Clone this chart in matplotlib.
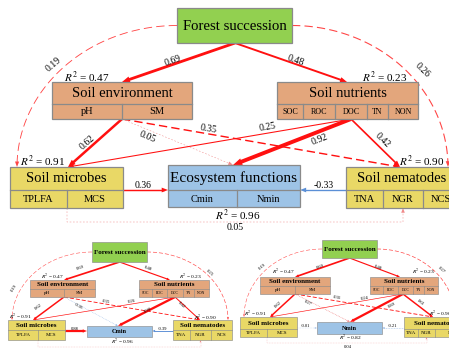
import numpy as np
import matplotlib.pyplot as plt
from matplotlib.patches import Rectangle, Polygon

plt.rcParams['font.family'] = 'Liberation Serif'
plt.rcParams['mathtext.fontset'] = 'stix'
plt.rcParams['lines.scale_dashes'] = False

# path order used by every coefficient / style list below
paths = ['fs_env', 'fs_nut', 'fs_mic', 'fs_nem', 'env_mic', 'env_cen', 'env_nem',
         'nut_mic', 'nut_cen', 'nut_nem', 'mic_cen', 'nem_cen', 'mic_nem']

eco_coef = [0.69, 0.48, 0.19, 0.26, 0.62, 0.05, 0.35, 0.25, 0.92, 0.42, 0.36, -0.33, 0.05]
cmin_coef = [0.69, 0.48, 0.19, 0.25, 0.62, -0.16, 0.35, 0.26, 0.90, 0.42, 0.88, -0.39, 0.05]
nmin_coef = [0.69, 0.48, 0.19, 0.27, 0.62, 0.27, 0.36, 0.24, 0.89, 0.61, -0.01, -0.21, 0.04]

# R2 for soil environment, soil nutrients, microbes, nematodes, centre box
eco_r2 = [0.47, 0.23, 0.91, 0.90, 0.96]
cmin_r2 = [0.47, 0.23, 0.91, 0.90, 0.96]
nmin_r2 = [0.47, 0.23, 0.91, 0.90, 0.82]

env_vars = ['pH', 'SM']
nut_vars = ['SOC', 'ROC', 'DOC', 'TN', 'NON']
mic_vars = ['TPLFA', 'MCS']
nem_vars = ['TNA', 'NGR', 'NCS']
eco_vars = ['Cmin', 'Nmin']

eco_ls = ['-', '-', '--', '--', '-', ':', '--', '-', '-', '-', '-', '-', ':']
cmin_ls = ['-', '-', '--', '--', '-', ':', '--', '-', '-', '-', '-', '-', ':']
nmin_ls = ['-', '-', '--', '--', '-', ':', '--', '-', '-', '-', ':', ':', ':']

GREEN = '#92d050'
ORANGE = '#e3a67c'
YELLOW = '#e9d866'
BLUE = '#9dc3e6'
EDGE = '#8a8a8a'

# pixel layouts (x0, y0, x1, y1[, row split])
main_lay = dict(
    s=1.0, weight='normal', fs=(177, 8, 292, 43),
    env=(52, 82, 192, 119, 104), env_div=[122],
    nut=(277, 82, 418, 119, 104), nut_div=[303, 335, 367, 388],
    mic=(10, 167, 123, 208, 190), mic_div=[67],
    cen=(168, 165, 300, 207, 190), cen_div=[237],
    nem=(346, 167, 458, 208, 190), nem_div=[383, 423],
    fs_out=(235, 43), env_in=(122, 82), nut_in=(347, 82),
    env_out=(122, 119), nut_out=(351, 119),
    mic_in=(68, 167), nem_in=(400, 167), cen_in=(233, 165),
    hy=190, arc_l=17, arc_r=448, bottom=222,
    coef_xy=[(173, 61), (296, 60), (53, 65), (422, 70), (87, 143), (147, 137), (208, 129),
             (268, 127), (320, 140), (382, 140), (143, 185), (324, 185), (235, 228)],
    r2_xy=[(87, 77), (385, 77), (43, 161), (422, 161), (238, 215)],
)

cmin_lay = dict(
    s=0.48, weight='bold', fs=(92, 242, 147, 262),
    env=(30, 280, 95, 297, 289), env_div=[64],
    nut=(139, 280, 209, 297, 289), nut_div=[152, 167, 183, 194],
    mic=(8, 320, 65, 340, 330), mic_div=[38],
    cen=(87, 326, 152, 337), cen_div=[],
    nem=(173, 320, 232, 340, 330), nem_div=[190, 211],
    fs_out=(119.5, 262), env_in=(64, 280), nut_in=(170, 280),
    env_out=(64, 297), nut_out=(175, 297),
    mic_in=(33, 320), nem_in=(200, 320), cen_in=(118, 326),
    hy=331, arc_l=12, arc_r=228, bottom=347,
    coef_xy=[(80, 268), (148, 268), (14, 288), (210, 273), (38, 307), (78, 306), (106, 302),
             (132, 301), (148, 310), (182, 305), (75, 329), (163, 329), (120, 352)],
    r2_xy=[(52, 277), (190, 277), (20, 317), (205, 318), (122, 342)],
)

nmin_lay = dict(
    s=0.48, weight='bold', fs=(322, 240, 377, 258),
    env=(260, 277, 330, 294, 286), env_div=[295],
    nut=(370, 277, 438, 294, 286), nut_div=[383, 398, 413, 424],
    mic=(240, 317, 297, 337, 329), mic_div=[267],
    cen=(317, 322, 382, 334), cen_div=[],
    nem=(404, 317, 470, 337, 329), nem_div=[418, 435],
    fs_out=(349.5, 258), env_in=(295, 277), nut_in=(400, 277),
    env_out=(295, 294), nut_out=(403, 294),
    mic_in=(270, 317), nem_in=(433, 317), cen_in=(350, 322),
    hy=328, arc_l=244, arc_r=455, bottom=343,
    coef_xy=[(320, 267), (378, 267), (262, 267), (442, 270), (278, 305), (308, 303), (337, 298),
             (365, 298), (392, 305), (421, 303), (306, 326), (393, 326), (348, 347)],
    r2_xy=[(283, 272), (423, 272), (255, 314), (440, 314), (350, 338)],
)


def screen_angle(p, q):
    a = np.degrees(np.arctan2(-(q[1] - p[1]), q[0] - p[0]))
    if a > 90:
        a -= 180
    if a < -90:
        a += 180
    return a


def draw_box(ax, rect, divs, title, subs, color, s, title_fs, sub_fs, weight):
    x0, y0, x1, y1 = rect[:4]
    ax.add_patch(Rectangle((x0, y0), x1 - x0, y1 - y0, fc=color, ec=EDGE, lw=0.9 * s, zorder=3))
    if subs:
        ys = rect[4]
        ax.plot([x0, x1], [ys, ys], color=EDGE, lw=0.9 * s, zorder=4)
        edges = [x0] + list(divs) + [x1]
        for d in divs:
            ax.plot([d, d], [ys, y1], color=EDGE, lw=0.9 * s, zorder=4)
        for i, lab in enumerate(subs):
            ax.text((edges[i] + edges[i + 1]) / 2, (ys + y1) / 2 + 0.5 * s, lab, fontsize=sub_fs,
                    ha='center', va='center', zorder=5, clip_on=True)
        ax.text((x0 + x1) / 2, (y0 + ys) / 2 + 0.5 * s, title, fontsize=title_fs, fontweight=weight,
                ha='center', va='center', zorder=5, clip_on=True)
    else:
        ax.text((x0 + x1) / 2, (y0 + y1) / 2 + 0.5 * s, title, fontsize=title_fs, fontweight=weight,
                ha='center', va='center', zorder=5)


def draw_path(ax, pts, color, lw, ls, head, s):
    pts = np.asarray(pts, float)
    p, q = pts[-2], pts[-1]
    d = (q - p) / np.hypot(*(q - p))
    line = np.vstack([pts[:-1], q - d * head * 0.7])
    kw = dict(color=color, lw=lw, solid_capstyle='butt', zorder=2)
    if ls == '--':
        kw['dashes'] = (6 * s, 3 * s)
    elif ls == ':':
        kw['dashes'] = (1.2 * s, 1.2 * s)
    ax.plot(line[:, 0], line[:, 1], **kw)
    n = np.array([-d[1], d[0]])
    base = q - d * head
    ax.add_patch(Polygon([q, base + n * head * 0.38, base - n * head * 0.38],
                         closed=True, fc=color, ec='none', zorder=2))


def draw_panel(ax, lay, coef, r2, ls, cen_title, cen_subs):
    s = lay['s']
    fs, env, nut, mic, cen, nem = (lay[k] for k in ['fs', 'env', 'nut', 'mic', 'cen', 'nem'])
    fs_mid = (fs[1] + fs[3]) / 2

    t = np.linspace(np.pi / 2, np.pi, 60)
    rx, ry = fs[0] - lay['arc_l'], mic[1] - fs_mid
    arc_left = np.column_stack([fs[0] + rx * np.cos(t), mic[1] - ry * np.sin(t)])
    t = np.linspace(np.pi / 2, 0, 60)
    rx, ry = lay['arc_r'] - fs[2], nem[1] - fs_mid
    arc_right = np.column_stack([fs[2] + rx * np.cos(t), nem[1] - ry * np.sin(t)])

    md = lay['mic_div'][0]
    ngr = (lay['nem_div'][0] + lay['nem_div'][1]) / 2
    yb, hy = lay['bottom'], lay['hy']
    geo = {
        'fs_env': [lay['fs_out'], lay['env_in']],
        'fs_nut': [lay['fs_out'], lay['nut_in']],
        'fs_mic': arc_left,
        'fs_nem': arc_right,
        'env_mic': [lay['env_out'], lay['mic_in']],
        'env_cen': [lay['env_out'], lay['cen_in']],
        'env_nem': [lay['env_out'], lay['nem_in']],
        'nut_mic': [lay['nut_out'], lay['mic_in']],
        'nut_cen': [lay['nut_out'], lay['cen_in']],
        'nut_nem': [lay['nut_out'], lay['nem_in']],
        'mic_cen': [(mic[2], hy), (cen[0], hy)],
        'nem_cen': [(nem[0], hy), (cen[2], hy)],
        'mic_nem': [(md, mic[3]), (md, yb), (ngr, yb), (ngr, nem[3])],
    }

    for name, c, style, (lx, ly) in zip(paths, coef, ls, lay['coef_xy']):
        pts = np.asarray(geo[name], float)
        if c < 0:
            color = '#8fb4e3' if style == ':' else '#5b8fd6'
        else:
            color = '#f08a8a' if style == ':' else ('#ff4545' if name.startswith('fs_') and style == '--' else '#ff1010')
        lw = (0.3 + 2.8 * abs(c) ** 1.3) * (s if s == 1 else 0.6)
        head = (4.5 + 5 * abs(c)) * s
        draw_path(ax, pts, color, lw, style, head, s)

        if name in ('fs_mic', 'fs_nem'):
            i = np.argmin(np.abs(pts[:, 1] - ly))
            rot = screen_angle(pts[max(i - 1, 0)], pts[min(i + 1, len(pts) - 1)])
        elif name == 'mic_nem':
            rot = 0
        else:
            rot = screen_angle(pts[0], pts[-1])
        ax.text(lx, ly, f'{c:.2f}', fontsize=7 * s, rotation=rot, rotation_mode='anchor',
                ha='center', va='center', zorder=6)

    tf = 10.5 * s
    sf = 7.5 * s
    w = lay['weight']
    draw_box(ax, fs, [], 'Forest succession', [], GREEN, s, 10.6 * s, sf, w)
    draw_box(ax, env, lay['env_div'], 'Soil environment', env_vars, ORANGE, s, tf, sf, w)
    draw_box(ax, nut, lay['nut_div'], 'Soil nutrients', nut_vars, ORANGE, s, tf, 5.8 * s, w)
    draw_box(ax, mic, lay['mic_div'], 'Soil microbes', mic_vars, YELLOW, s, tf, sf, w)
    draw_box(ax, nem, lay['nem_div'], 'Soil nematodes', nem_vars, YELLOW, s, tf, sf, w)
    draw_box(ax, cen, lay['cen_div'], cen_title, cen_subs, BLUE, s,
             11 * s if cen_subs else tf * 0.9, sf, w)

    for val, (x, y) in zip(r2, lay['r2_xy']):
        ax.text(x, y, rf'$R^2$ = {val:.2f}', fontsize=8 * s, ha='center', va='center', zorder=6)


fig = plt.figure(figsize=(4.49, 3.48), dpi=100)
ax = fig.add_axes([0, 0, 1, 1])
ax.set_xlim(0, 449)
ax.set_ylim(348, 0)
ax.axis('off')

draw_panel(ax, main_lay, eco_coef, eco_r2, eco_ls, 'Ecosystem functions', eco_vars)
draw_panel(ax, cmin_lay, cmin_coef, cmin_r2, cmin_ls, 'Cmin', [])
draw_panel(ax, nmin_lay, nmin_coef, nmin_r2, nmin_ls, 'Nmin', [])

fig.savefig('out.png', dpi=100)
